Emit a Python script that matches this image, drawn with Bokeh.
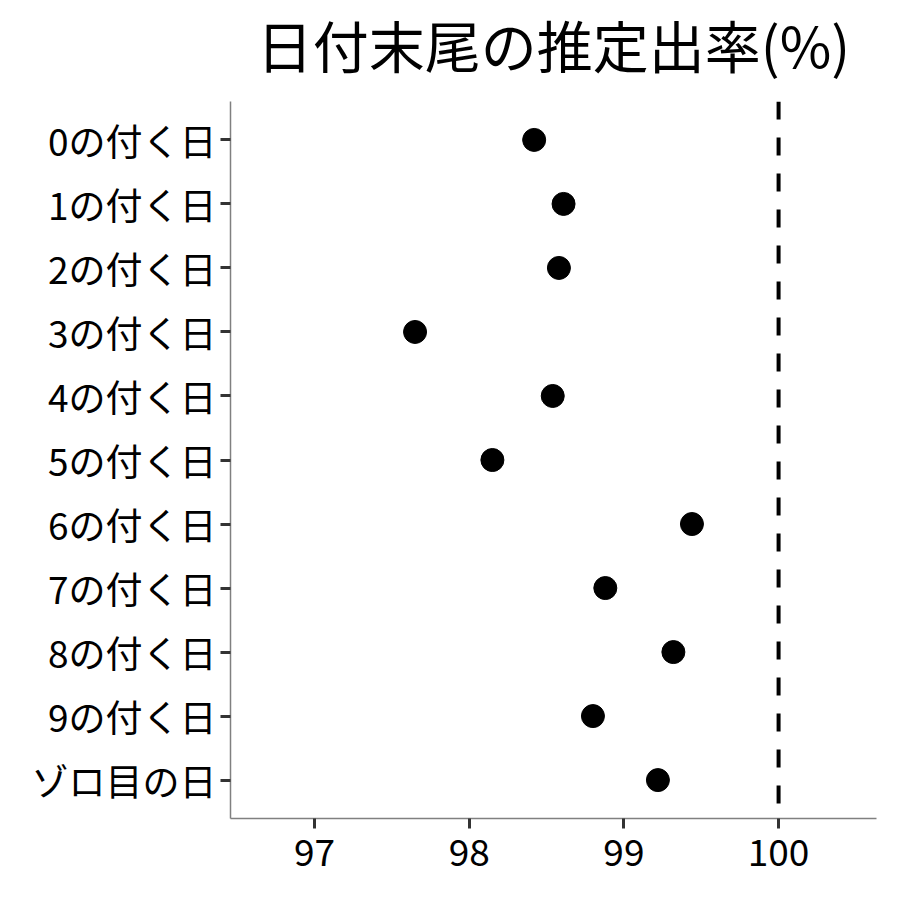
from bokeh.plotting import figure
from bokeh.models import ColumnDataSource, Range1d, FixedTicker, Span
from bokeh.embed import file_html
from bokeh.resources import INLINE

categories = ["0の付く日", "1の付く日", "2の付く日", "3の付く日", "4の付く日",
              "5の付く日", "6の付く日", "7の付く日", "8の付く日", "9の付く日", "ゾロ目の日"]
rates = [98.42, 98.61, 98.58, 97.65, 98.54, 98.15, 99.44, 98.88, 99.32, 98.80, 99.22]
x_ticks = [97, 98, 99, 100]
reference_rate = 100
title_text = "日付末尾の推定出率(%)"

FONT = "Noto Sans CJK JP"

positions = list(range(len(categories)))
src = ColumnDataSource(dict(y=positions, x=rates, cat=categories))

SHIFT = 17
p = figure(width=884, height=884 + SHIFT, output_backend="svg", toolbar_location=None,
           x_range=Range1d(96.457, 100.633),
           y_range=Range1d(len(categories) - 1 + 0.6, -0.6),
           min_border_left=230, min_border_right=8, min_border_top=100 + SHIFT,
           min_border_bottom=66, title=title_text)
p.margin = (-SHIFT, 0, 0, 0)

p.title.text_font = FONT
p.title.text_font_size = "56px"
p.title.text_font_style = "normal"
p.title.align = "center"
p.title.text_color = "black"
p.title.standoff = 35

p.scatter("x", "y", source=src, size=23, color="black")

p.add_layout(Span(location=reference_rate, dimension="height", line_color="black",
                  line_width=4, line_dash="18 18"))

p.grid.visible = False
p.outline_line_color = None

p.xaxis.ticker = FixedTicker(ticks=x_ticks)
p.yaxis.ticker = FixedTicker(ticks=positions)
p.yaxis.major_label_overrides = {i: c for i, c in enumerate(categories)}

for ax in (p.xaxis[0], p.yaxis[0]):
    ax.axis_line_color = "#808080"
    ax.axis_line_width = 1.5
    ax.major_tick_line_color = "#333333"
    ax.major_tick_line_width = 3
    ax.major_tick_out = 10
    ax.major_tick_in = 0
    ax.minor_tick_out = 0
    ax.minor_tick_in = 0
    ax.major_label_text_font = FONT
    ax.major_label_text_font_size = "37px"
    ax.major_label_text_color = "black"

p.yaxis.major_label_standoff = 4
p.xaxis.major_label_standoff = 10

p.background_fill_color = "white"
p.border_fill_color = "white"

open("out.html", "w").write(file_html(p, INLINE))
